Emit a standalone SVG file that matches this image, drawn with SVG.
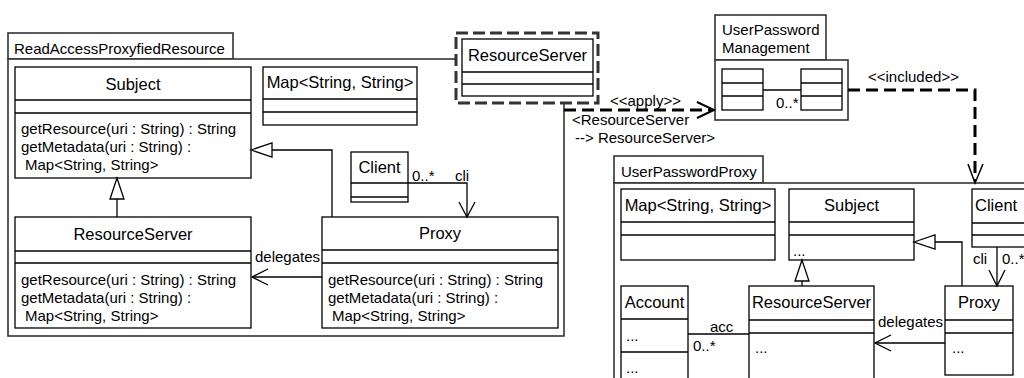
<svg xmlns="http://www.w3.org/2000/svg" width="1024" height="378" viewBox="0 0 1024 378">
<style>
text{font-family:"Liberation Sans",Arial,sans-serif;fill:#000}
.n{font-size:16.5px}
.c{text-anchor:middle}
.t{font-size:15px}
.box{fill:#fff;stroke:#000;stroke-width:1.3}
.ln{stroke:#000;stroke-width:1.3;fill:none}
.pk{fill:#fff;stroke:#333;stroke-width:1.6}
.dash{fill:none;stroke:#000;stroke-width:3;stroke-dasharray:12 6}
.tri{fill:#fff;stroke:#000;stroke-width:1.3}
</style>
<rect width="1024" height="378" fill="#fff"/>

<g id="pkg-ReadAccessProxyfiedResource">
<rect class="pk" x="8" y="33" width="225" height="26"/>
<rect class="pk" x="8" y="59" width="556" height="277"/>
<text class="t" x="14" y="54">ReadAccessProxyfiedResource</text>
</g>

<g id="tpl-ResourceServer">
<rect x="456" y="33" width="142" height="70" fill="#fff" stroke="#333" stroke-width="3" stroke-dasharray="12 5"/>
<rect class="box" x="462" y="39" width="131" height="57"/>
<line class="ln" x1="462" y1="72" x2="593" y2="72"/>
<line class="ln" x1="462" y1="84" x2="593" y2="84"/>
<text class="n c" x="527.5" y="61">ResourceServer</text>
</g>

<g id="L-Subject">
<rect class="box" x="15" y="67" width="236" height="111"/>
<line class="ln" x1="15" y1="100" x2="251" y2="100"/>
<line class="ln" x1="15" y1="113" x2="251" y2="113"/>
<text class="n c" x="133" y="90">Subject</text>
<text class="t" x="21" y="134">getResource(uri : String) : String</text>
<text class="t" x="21" y="152">getMetadata(uri : String) :</text>
<text class="t" x="25" y="170">Map&lt;String, String&gt;</text>
</g>

<g id="L-Map">
<rect class="box" x="263" y="67" width="154" height="58"/>
<line class="ln" x1="263" y1="99" x2="417" y2="99"/>
<line class="ln" x1="263" y1="112" x2="417" y2="112"/>
<text class="n c" x="340" y="88">Map&lt;String, String&gt;</text>
</g>

<g id="L-ResourceServer">
<rect class="box" x="15" y="217" width="236" height="111"/>
<line class="ln" x1="15" y1="251" x2="251" y2="251"/>
<line class="ln" x1="15" y1="263" x2="251" y2="263"/>
<text class="n c" x="133" y="240">ResourceServer</text>
<text class="t" x="21" y="285">getResource(uri : String) : String</text>
<text class="t" x="21" y="303">getMetadata(uri : String) :</text>
<text class="t" x="25" y="321">Map&lt;String, String&gt;</text>
</g>

<g id="L-Proxy">
<rect class="box" x="322" y="217" width="236" height="111"/>
<line class="ln" x1="322" y1="250" x2="558" y2="250"/>
<line class="ln" x1="322" y1="263" x2="558" y2="263"/>
<text class="n c" x="440" y="239">Proxy</text>
<text class="t" x="328" y="285">getResource(uri : String) : String</text>
<text class="t" x="328" y="303">getMetadata(uri : String) :</text>
<text class="t" x="332" y="321">Map&lt;String, String&gt;</text>
</g>

<g id="L-Client">
<rect class="box" x="351" y="152" width="57" height="50"/>
<line class="ln" x1="351" y1="183" x2="408" y2="183"/>
<line class="ln" x1="351" y1="197" x2="408" y2="197"/>
<text class="n c" x="379.5" y="173">Client</text>
</g>

<g id="pkg-UserPasswordManagement">
<rect class="pk" x="715" y="15" width="111" height="45"/>
<rect class="pk" x="715" y="60" width="133" height="60"/>
<text class="t" x="722" y="35">UserPassword</text>
<text class="t" x="722" y="53">Management</text>
<rect class="box" x="722" y="69" width="41" height="41"/>
<line class="ln" x1="722" y1="83" x2="763" y2="83"/>
<line class="ln" x1="722" y1="96" x2="763" y2="96"/>
<rect class="box" x="801" y="69" width="41" height="41"/>
<line class="ln" x1="801" y1="83" x2="842" y2="83"/>
<line class="ln" x1="801" y1="96" x2="842" y2="96"/>
<line class="ln" x1="763" y1="90" x2="801" y2="90"/>
<text class="t" x="776" y="108">0..*</text>
</g>

<g id="pkg-UserPasswordProxy">
<rect class="pk" x="614" y="156" width="149" height="27"/>
<rect class="pk" x="614" y="183" width="430" height="210"/>
<text class="t" x="621" y="177">UserPasswordProxy</text>
</g>

<g id="R-Map">
<rect class="box" x="621" y="189" width="154" height="71"/>
<line class="ln" x1="621" y1="222" x2="775" y2="222"/>
<line class="ln" x1="621" y1="235" x2="775" y2="235"/>
<text class="n c" x="698" y="211">Map&lt;String, String&gt;</text>
</g>

<g id="R-Subject">
<rect class="box" x="789" y="189" width="125" height="71"/>
<line class="ln" x1="789" y1="222" x2="914" y2="222"/>
<line class="ln" x1="789" y1="235" x2="914" y2="235"/>
<text class="n c" x="851.5" y="211">Subject</text>
<text class="t" x="793" y="256">...</text>
</g>

<g id="R-Client">
<rect class="box" x="972" y="189" width="70" height="58"/>
<line class="ln" x1="972" y1="223" x2="1042" y2="223"/>
<line class="ln" x1="972" y1="235" x2="1042" y2="235"/>
<text class="n" x="975" y="211">Client</text>
</g>

<g id="R-Account">
<rect class="box" x="621" y="286" width="67" height="100"/>
<line class="ln" x1="621" y1="319" x2="688" y2="319"/>
<line class="ln" x1="621" y1="352" x2="688" y2="352"/>
<text class="n c" x="654.5" y="308">Account</text>
<text class="t" x="626" y="341">...</text>
<text class="t" x="626" y="373">...</text>
</g>

<g id="R-ResourceServer">
<rect class="box" x="749" y="286" width="125" height="100"/>
<line class="ln" x1="749" y1="320" x2="874" y2="320"/>
<line class="ln" x1="749" y1="333" x2="874" y2="333"/>
<text class="n c" x="811.5" y="308">ResourceServer</text>
<text class="t" x="755" y="353">...</text>
</g>

<g id="R-Proxy">
<rect class="box" x="945" y="286" width="68" height="89"/>
<line class="ln" x1="945" y1="320" x2="1013" y2="320"/>
<line class="ln" x1="945" y1="333" x2="1013" y2="333"/>
<text class="n c" x="979" y="308">Proxy</text>
<text class="t" x="952" y="353">...</text>
</g>

<g id="connectors">
<!-- left package -->
<line class="ln" x1="117" y1="217" x2="117" y2="199"/>
<polygon class="tri" points="117,178 110,199 124,199"/>
<polyline class="ln" points="332,217 332,150 272,150"/>
<polygon class="tri" points="251,150 272,143 272,157"/>
<polyline class="ln" points="408,183 467,183 467,217"/>
<polyline class="ln" points="459,202 467,217 475,202"/>
<text class="t" x="412" y="181">0..*</text>
<text class="t" x="455" y="181">cli</text>
<line class="ln" x1="322" y1="277" x2="252" y2="277"/>
<polyline class="ln" points="268,269 252,277 268,285"/>
<text class="t" x="255" y="262">delegates</text>

<!-- apply -->
<line class="dash" x1="564" y1="110" x2="712" y2="110"/>
<polyline points="697,102 714,110 697,118" fill="none" stroke="#000" stroke-width="2"/>
<text class="t" x="610" y="106">&lt;&lt;apply&gt;&gt;</text>
<text class="t" x="572" y="125">&lt;ResourceServer</text>
<text class="t" x="575" y="143">--&gt; ResourceServer&gt;</text>

<!-- included -->
<polyline class="dash" points="848,90 975,90 975,181"/>
<polyline points="968,164 975,183 983,164" fill="none" stroke="#000" stroke-width="1.5"/>
<text class="t" x="868" y="82">&lt;&lt;included&gt;&gt;</text>

<!-- right package -->
<line class="ln" x1="802" y1="286" x2="802" y2="281"/>
<polygon class="tri" points="802,260 795,281 809,281"/>
<polyline class="ln" points="962,286 962,242 935,242"/>
<polygon class="tri" points="914,242 935,235 935,249"/>
<line class="ln" x1="997" y1="247" x2="997" y2="286"/>
<polyline class="ln" points="989,270 997,286 1005,270"/>
<text class="t" x="973" y="264">cli</text>
<text class="t" x="1002" y="264">0..*</text>
<line class="ln" x1="945" y1="343" x2="875" y2="343"/>
<polyline class="ln" points="891,335 875,343 891,351"/>
<text class="t" x="878" y="327">delegates</text>
<line class="ln" x1="688" y1="334" x2="749" y2="334"/>
<text class="t" x="710" y="332">acc</text>
<text class="t" x="693" y="351">0..*</text>
</g>
</svg>
